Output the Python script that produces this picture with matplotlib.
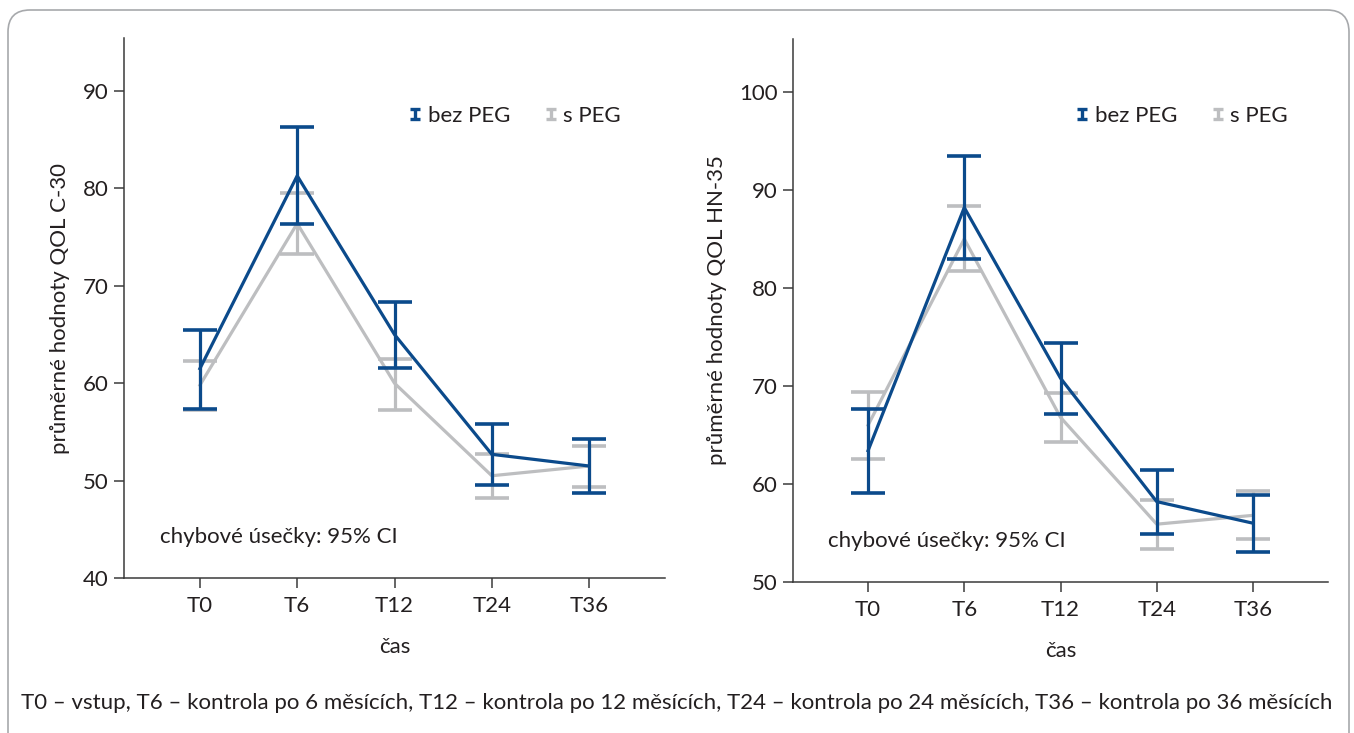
import matplotlib
matplotlib.use("Agg")
import matplotlib.pyplot as plt
from matplotlib.path import Path
from matplotlib.lines import Line2D
from matplotlib.patches import FancyBboxPatch
from matplotlib.transforms import IdentityTransform

plt.rcParams['font.family'] = ['Lato', 'DejaVu Sans']

categories = ["T0", "T6", "T12", "T24", "T36"]

# QOL C-30
c30_bez_mean = [61.5, 81.3, 65.0, 52.7, 51.5]
c30_bez_lo = [57.4, 76.3, 61.6, 49.5, 48.7]
c30_bez_hi = [65.5, 86.3, 68.3, 55.8, 54.3]
c30_s_mean = [59.8, 76.4, 60.0, 50.5, 51.5]
c30_s_lo = [57.2, 73.3, 57.3, 48.2, 49.3]
c30_s_hi = [62.3, 79.5, 62.5, 52.7, 53.6]

# QOL HN-35
hn35_bez_mean = [63.4, 88.2, 70.8, 58.2, 56.0]
hn35_bez_lo = [59.1, 83.0, 67.1, 54.9, 53.1]
hn35_bez_hi = [67.6, 93.5, 74.4, 61.4, 58.9]
hn35_s_mean = [66.0, 85.0, 66.8, 55.9, 56.8]
hn35_s_lo = [62.6, 81.7, 64.3, 53.4, 54.4]
hn35_s_hi = [69.4, 88.4, 69.3, 58.4, 59.3]

BLUE = '#0b4a8b'
GRAY = '#bdbec0'
TXT = '#231f20'

fig = plt.figure(figsize=(13.54, 7.33), dpi=100)

# rounded frame (pixel coordinates)
frame = FancyBboxPatch((8, -30), 1349 - 8, 723 + 30,
                       boxstyle="round,pad=0,rounding_size=22",
                       transform=IdentityTransform(), fill=False,
                       edgecolor='#a7a9ac', linewidth=1.2)
fig.patches.append(frame)

I_marker = Path([(-1, 1), (1, 1), (0, 1), (0, -1), (-1, -1), (1, -1)],
                [Path.MOVETO, Path.LINETO, Path.MOVETO, Path.LINETO, Path.MOVETO, Path.LINETO])


def panel(ax, bez_m, bez_lo, bez_hi, s_m, s_lo, s_hi, ylim, yticks, ylabel, leg_anchor):
    x = list(range(len(categories)))
    for m, lo, hi, col, z in [(bez_m, bez_lo, bez_hi, BLUE, 3), (s_m, s_lo, s_hi, GRAY, 2)]:
        err = [[mm - l for mm, l in zip(m, lo)], [h - mm for mm, h in zip(m, hi)]]
        ax.errorbar(x, m, yerr=err, color=col, linewidth=2.3, elinewidth=2.3,
                    capsize=12, capthick=2.6, zorder=z)
    ax.set_xlim(-0.78, 4.78)
    ax.set_ylim(*ylim)
    ax.set_yticks(yticks)
    ax.set_xticks(x)
    ax.set_xticklabels(categories)
    for s in ['top', 'right']:
        ax.spines[s].set_visible(False)
    for s in ['left', 'bottom']:
        ax.spines[s].set_linewidth(1.1)
        ax.spines[s].set_color('#3a3a3a')
    ax.tick_params(axis='both', labelsize=16, colors='#3a3a3a', labelcolor=TXT,
                   length=7, width=1.1)
    ax.tick_params(axis='x', pad=6)
    ax.tick_params(axis='y', pad=4)
    ax.set_xlabel("čas", fontsize=16, color=TXT, labelpad=15)
    ax.set_ylabel(ylabel, fontsize=16, color=TXT, labelpad=9)
    ax.text(0.066, 0.076, "chybové úsečky: 95% CI", transform=ax.transAxes,
            fontsize=16, color=TXT, va='center', ha='left')
    handles = [Line2D([], [], linestyle='none', marker=I_marker, markersize=7,
                      markeredgewidth=2.4, markeredgecolor=c, markerfacecolor='none')
               for c in (BLUE, GRAY)]
    ax.legend(handles, ["bez PEG", "s PEG"], ncol=2, frameon=False, fontsize=16,
              loc='center right', bbox_to_anchor=leg_anchor, handlelength=0.5,
              handletextpad=0.3, columnspacing=1.6, labelcolor=TXT,
              borderaxespad=0, borderpad=0)


ax1 = fig.add_axes([124/1354, (733-578)/733, (665-124)/1354, (578-38)/733])
panel(ax1, c30_bez_mean, c30_bez_lo, c30_bez_hi, c30_s_mean, c30_s_lo, c30_s_hi,
      (40, 95.45), [40, 50, 60, 70, 80, 90], "průměrné hodnoty QOL C-30",
      ((621-124)/541, (578-116)/540))

ax2 = fig.add_axes([793/1354, (733-582)/733, (1328-793)/1354, (582-39)/733])
panel(ax2, hn35_bez_mean, hn35_bez_lo, hn35_bez_hi, hn35_s_mean, hn35_s_lo, hn35_s_hi,
      (50, 105.4), [50, 60, 70, 80, 90, 100], "průměrné hodnoty QOL HN-35",
      ((1288-793)/535, (582-116)/543))

fig.text(677/1354, 1 - 703/733,
         "T0 – vstup, T6 – kontrola po 6 měsících, T12 – kontrola po 12 měsících, "
         "T24 – kontrola po 24 měsících, T36 – kontrola po 36 měsících",
         ha='center', va='center', fontsize=16, color=TXT)

fig.savefig("out.png", dpi=100)
